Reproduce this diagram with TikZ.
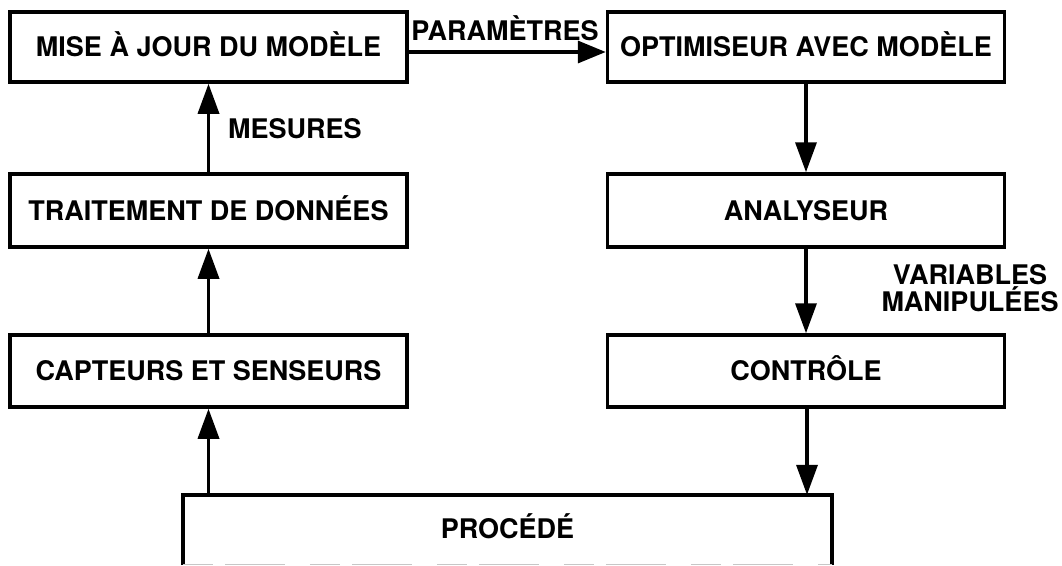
\documentclass[tikz,border=0pt]{standalone}
\usepackage{fontspec}
\setmainfont{TeX Gyre Heros}
\usetikzlibrary{arrows.meta}

\begin{document}
\begin{tikzpicture}[
  x=1pt, y=-1pt,
  blk/.style={draw, line width=3.5pt, inner sep=0pt, minimum width=397pt,
    font=\fontsize{27}{30}\selectfont\bfseries, text height=19.5pt, text depth=0pt},
  procbox/.style={inner sep=0pt, minimum width=649pt, minimum height=68pt,
    font=\fontsize{27}{30}\selectfont\bfseries, text height=19.5pt, text depth=0pt},
  lbl/.style={inner sep=0pt, font=\fontsize{27}{26.5}\selectfont\bfseries},
  arr/.style={line width=3.5pt, -{Triangle[length=30pt,width=21pt]}},
]
\useasboundingbox (0,0) rectangle (1062,565);
\clip (0,0) rectangle (1062,565);

% left column
\node[blk, minimum height=70pt] (maj)  at (208.5,47)  {MISE À JOUR DU MODÈLE};
\node[blk, minimum height=73pt] (trt)  at (208.5,210.5) {TRAITEMENT DE DONNÉES};
\node[blk, minimum height=72pt] (cap)  at (208.5,371) {CAPTEURS ET SENSEURS};

% right column
\node[blk, minimum height=70pt] (opt)  at (806,47)    {OPTIMISEUR AVEC MODÈLE};
\node[blk, minimum height=73pt] (ana)  at (806,210.5) {ANALYSEUR};
\node[blk, minimum height=72pt] (ctl)  at (806,371)   {CONTRÔLE};

% process block, cut at the bottom of the page
\node[procbox] (proc) at (507.5,529) {PROCÉDÉ};
\draw[line width=3.5pt, line join=miter]
  ([yshift=-2pt]proc.south west) -- (proc.north west) -- (proc.north east) -- ([yshift=-2pt]proc.south east);
\draw[black!22, line width=1.2pt, dash pattern=on 30pt off 12pt on 60pt off 25pt]
  ([yshift=-1pt]proc.south west) -- ([yshift=-1pt]proc.south east);

% measurement chain
\draw[arr] (proc.north -| cap.south) -- (cap.south);
\draw[arr] (cap.north) -- (trt.south);
\draw[arr] (trt.north) -- (maj.south);
\node[lbl, anchor=base west] (mes) at (228,138) {MESURES};

% parameters to optimiser
\draw[line width=3.5pt, -{Triangle[length=28pt,width=22pt]}]
  ([yshift=-5pt]maj.east) -- ([yshift=-5pt]opt.west);
\node[lbl, anchor=base] (par) at (505,40) {PARAMÈTRES};

% control chain
\draw[arr] (opt.south) -- (ana.north);
\draw[arr] (ana.south) -- (ctl.north);
\draw[arr] ([xshift=1pt]ctl.south) -- ([xshift=1pt]ctl.south |- proc.north);
\node[lbl, align=center] (var) at (970,288) {VARIABLES\\MANIPULÉES};
\end{tikzpicture}
\end{document}
